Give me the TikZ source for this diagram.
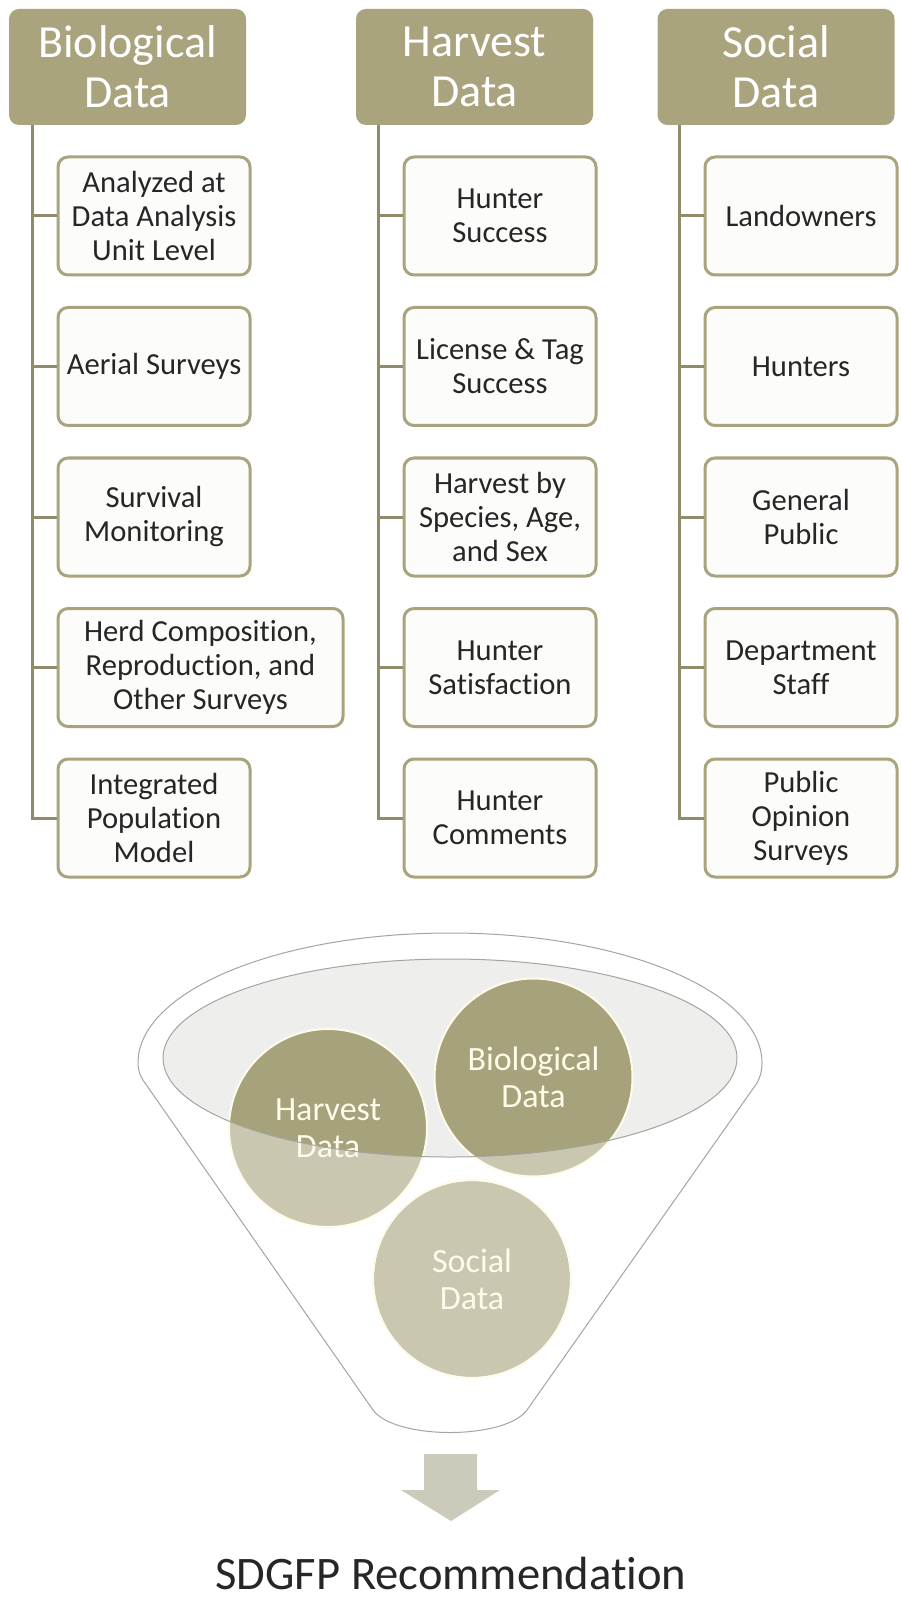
\documentclass[tikz,border=0pt]{standalone}
\usepackage{fontspec}
\setmainfont{Carlito}[Ligatures=NoCommon]
\usetikzlibrary{positioning}

\definecolor{khaki}{HTML}{A9A47E}
\definecolor{trunkcol}{HTML}{8F8B6B}
\definecolor{boxfill}{HTML}{FCFCFA}
\definecolor{ink}{HTML}{262626}
\definecolor{discdark}{HTML}{A6A27B}
\definecolor{disclight}{HTML}{C9C7AF}
\definecolor{cream}{HTML}{FFFBEA}
\definecolor{mouthfill}{HTML}{EEEEEC}
\definecolor{rimcol}{HTML}{A4A4A0}
\definecolor{arrowcol}{HTML}{CBCABB}

\begin{document}
\begin{tikzpicture}[x=0.5pt, y=-0.5pt,
  header/.style={fill=khaki, rounded corners=5pt, minimum width=118.5pt,
    minimum height=58pt, inner sep=0pt, align=center, text=white,
    font=\fontsize{23}{25}\selectfont},
  item/.style={draw=khaki, line width=1.5pt, fill=boxfill, rounded corners=5pt,
    minimum width=96pt, minimum height=59pt, inner sep=0pt, align=center,
    text=ink, font=\fontsize{15.3}{17}\selectfont, anchor=west},
  trunk/.style={draw=trunkcol, line width=1.5pt},
  disc/.style={circle, fill=disclight, minimum size=99pt, inner sep=0pt},
  disctext/.style={align=center, text=cream, font=\fontsize{17}{18.5}\selectfont},
  rim/.style={draw=rimcol, line width=0.5pt}]

  \useasboundingbox[fill=white] (0,0) rectangle (901,1604);

  % Column headers
  \node[header] (bio) at (127.5,67) {Biological\\Data};
  \node[header] (harv) at (474.5,67) {Harvest\\Data};
  \node[header] (soc) at (776,67) {Social\\Data};

  % Trunk positions
  \coordinate (biox) at (32,0);
  \coordinate (harvx) at (378,0);
  \coordinate (socx) at (679,0);

  % Boxes under each header
  \foreach \t/\w [count=\i] in {{Analyzed at\\Data Analysis\\Unit Level}/96,
      {Aerial Surveys}/96, {Survival\\Monitoring}/96,
      {Herd Composition,\\Reproduction, and\\Other Surveys}/142.5,
      {Integrated\\Population\\Model}/96} {
    \node[item, minimum width=\w pt] (bio\i) at (56.5, {216+150.5*(\i-1)}) {\t};
  }
  \foreach \t [count=\i] in {{Hunter\\Success}, {License \& Tag\\Success},
      {Harvest by\\Species, Age,\\and Sex}, {Hunter\\Satisfaction},
      {Hunter\\Comments}} {
    \node[item] (harv\i) at (402.5, {216+150.5*(\i-1)}) {\t};
  }
  \foreach \t [count=\i] in {Landowners, Hunters, {General\\Public},
      {Department\\Staff}, {Public\\Opinion\\Surveys}} {
    \node[item] (soc\i) at (703.5, {216+150.5*(\i-1)}) {\t};
  }

  % Trunks and branches
  \foreach \col in {bio, harv, soc} {
    \draw[trunk] (\col.south -| \col x) |- (\col5.west);
    \foreach \i in {1,...,4} {
      \draw[trunk] (\col x |- \col\i.west) -- (\col\i.west);
    }
  }

  % Funnel
  \draw[rim] (373,1410) -- (145,1083) .. controls (139,1075) and (138,1068) .. (138,1063)
    arc[start angle=180, end angle=360, x radius=312, y radius=130]
    .. controls (762,1068) and (761,1076) .. (757,1083) -- (527,1410)
    .. controls (505,1440) and (395,1440) .. (373,1410);
  \fill[mouthfill] (450,1058) ellipse[x radius=287, y radius=99];

  % Discs
  \node[disc] (hdisc) at (328,1128) {};
  \node[disc] (bdisc) at (533.5,1077.5) {};
  \node[disc, minimum size=98pt] (sdisc) at (472,1279) {};
  \begin{scope}
    \clip (450,1058) ellipse[x radius=287, y radius=99];
    \fill[discdark] (hdisc.center) circle[radius=99];
    \fill[discdark] (bdisc.center) circle[radius=99];
  \end{scope}
  \foreach \d in {hdisc, bdisc, sdisc} {
    \draw[cream, line width=1pt] (\d.center) circle[radius=99];
  }
  \node[disctext] (hlbl) at (hdisc) {Harvest\\Data};
  \node[disctext] (blbl) at (bdisc) {Biological\\Data};
  \node[disctext] (slbl) at (sdisc) {Social\\Data};
  \draw[rim] (450,1058) ellipse[x radius=287, y radius=99];

  % Result
  \fill[arrowcol] (424,1454) -- (477,1454) -- (477,1490) -- (500,1490)
    -- (451,1521) -- (401,1490) -- (424,1490) -- cycle;
  \node[anchor=base, text=ink, font=\fontsize{23.3}{28}\selectfont] (rec)
    at (451,1589) {SDGFP Recommendation};
\end{tikzpicture}
\end{document}
